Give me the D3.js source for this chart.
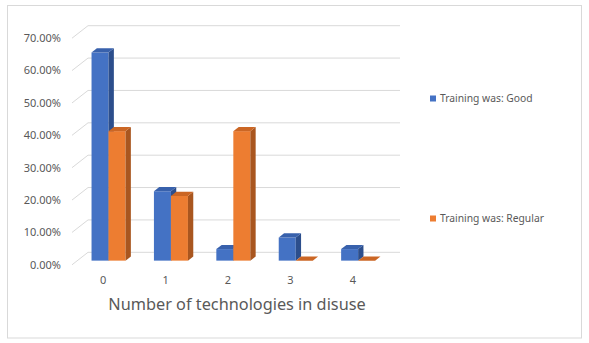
<!DOCTYPE html>
<html>
<head>
<meta charset="utf-8">
<script src="https://cdn.jsdelivr.net/npm/d3@7"></script>
<style>
  body { margin: 0; background: #fff; }
  svg text { font-family: "Noto Sans", "Open Sans", sans-serif; fill: #595959; }
</style>
</head>
<body>
<div class="svg-container"></div>
<script>
// data
const categories = ['0', '1', '2', '3', '4'];
const seriesNames = ['Training was: Good', 'Training was: Regular'];
const goodValues = [0.6429, 0.2143, 0.0357, 0.0714, 0.0357];
const regularValues = [0.40, 0.20, 0.40, 0, 0];
const yTicks = [0, 0.1, 0.2, 0.3, 0.4, 0.5, 0.6, 0.7];
const axisTitle = 'Number of technologies in disuse';

const W = 589, H = 343;

// colours: front, top, side
const palette = [
    {front: '#4472C4', top: '#3861AC', side: '#2C4E8C'},
    {front: '#ED7D31', top: '#CB6624', side: '#A9561F'}
];

// 3d oblique depth of the floor (front -> back)
const depth = {dx: 16, dy: -12.5};

const svg = d3.select('.svg-container')
    .append('svg')
    .attr('width', W)
    .attr('height', H);

// outer frame
svg.append('rect')
    .attr('x', 7.5).attr('y', 5.5)
    .attr('width', 574).attr('height', 332.5)
    .attr('fill', '#fff')
    .attr('stroke', '#d9d9d9');

// y scale on the front plane
const yScale = d3.scaleLinear()
    .domain([0, 0.7])
    .range([264.8, 38.2]);

// categories on the front plane
const xScale = d3.scaleBand()
    .domain(categories)
    .range([72, 384]);

const xInner = d3.scaleBand()
    .domain(seriesNames)
    .range([xScale.bandwidth() / 2 - 17, xScale.bandwidth() / 2 + 17]);

// gridlines: side wall diagonal + back wall
const grid = svg.append('g').attr('class', 'grid')
    .attr('stroke', '#d9d9d9').attr('fill', 'none');

grid.selectAll('.diag')
    .data(yTicks)
    .enter()
    .append('line')
    .attr('x1', 72).attr('y1', d => yScale(d))
    .attr('x2', 72 + depth.dx).attr('y2', d => yScale(d) + depth.dy);

grid.selectAll('.back')
    .data(yTicks)
    .enter()
    .append('line')
    .attr('x1', 72 + depth.dx).attr('y1', d => yScale(d) + depth.dy)
    .attr('x2', 384 + depth.dx).attr('y2', d => yScale(d) + depth.dy);

// y labels
svg.append('g')
    .selectAll('text')
    .data(yTicks)
    .enter()
    .append('text')
    .attr('x', 61)
    .attr('y', d => yScale(d))
    .attr('dy', '0.35em')
    .attr('text-anchor', 'end')
    .attr('font-size', 11)
    .text(d3.format('.2%'));

// x labels
svg.append('g')
    .selectAll('text')
    .data(categories)
    .enter()
    .append('text')
    .attr('x', d => xScale(d) + xScale.bandwidth() / 2)
    .attr('y', 280)
    .attr('dy', '0.35em')
    .attr('text-anchor', 'middle')
    .attr('font-size', 11)
    .text(d => d);

// bars, sitting in the middle third of the floor depth
const bd = {dx: depth.dx / 3, dy: depth.dy / 3};
const barData = [];
categories.forEach((c, i) => {
    barData.push({cat: c, s: 0, value: goodValues[i]});
    barData.push({cat: c, s: 1, value: regularValues[i]});
});

const bars = svg.append('g').attr('class', 'bars')
    .selectAll('g')
    .data(barData)
    .enter()
    .append('g');

function geom(d) {
    const x = xScale(d.cat) + xInner(seriesNames[d.s]) + bd.dx;
    const w = xInner.bandwidth();
    const y0 = yScale(0) + bd.dy;
    const y1 = yScale(d.value) + bd.dy;
    return {x, w, y0, y1};
}

bars.append('rect')
    .attr('x', d => geom(d).x)
    .attr('y', d => geom(d).y1)
    .attr('width', d => geom(d).w)
    .attr('height', d => geom(d).y0 - geom(d).y1)
    .attr('fill', d => palette[d.s].front);

bars.append('path')
    .attr('d', d => {
        const g = geom(d);
        return `M${g.x + g.w},${g.y1} L${g.x + g.w + bd.dx},${g.y1 + bd.dy} L${g.x + g.w + bd.dx},${g.y0 + bd.dy} L${g.x + g.w},${g.y0} Z`;
    })
    .attr('fill', d => palette[d.s].side);

bars.append('path')
    .attr('d', d => {
        const g = geom(d);
        return `M${g.x},${g.y1} L${g.x + g.w},${g.y1} L${g.x + g.w + bd.dx},${g.y1 + bd.dy} L${g.x + bd.dx},${g.y1 + bd.dy} Z`;
    })
    .attr('fill', d => palette[d.s].top);

// axis title
svg.append('text')
    .attr('x', 237)
    .attr('y', 304)
    .attr('dy', '0.35em')
    .attr('text-anchor', 'middle')
    .attr('font-size', 16.3)
    .text(axisTitle);

// legend
const legend = svg.append('g').attr('class', 'legend')
    .selectAll('g')
    .data(seriesNames)
    .enter()
    .append('g')
    .attr('transform', (d, i) => `translate(430, ${98.5 + i * 120})`);

legend.append('rect')
    .attr('x', 0).attr('y', -3)
    .attr('width', 6).attr('height', 6)
    .attr('fill', (d, i) => palette[i].front);

legend.append('text')
    .attr('x', 10)
    .attr('dy', '0.35em')
    .attr('font-size', 10.3)
    .text(d => d);
</script>
</body>
</html>
